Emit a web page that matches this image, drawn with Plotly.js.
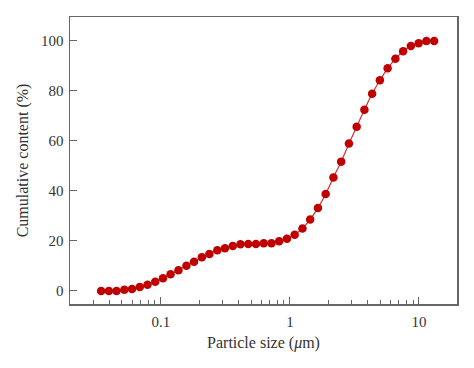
<!DOCTYPE html>
<html><head><meta charset="utf-8">
<script src="https://cdn.plot.ly/plotly-3.0.1.min.js"></script>
<style>html,body{margin:0;padding:0;background:#fff}#chart{width:474px;height:368px}</style>
</head><body><div id="chart"></div>
<script>
const particleSize = [0.0345,0.0396,0.0454,0.0522,0.0599,0.0687,0.0789,0.0906,0.104,0.119,0.137,0.158,0.181,0.208,0.238,0.274,0.314,0.361,0.414,0.476,0.546,0.627,0.720,0.826,0.949,1.089,1.251,1.436,1.649,1.893,2.174,2.496,2.866,3.290,3.778,4.337,4.980,5.718,6.565,7.538,8.655,9.936,11.41,13.10];
const cumulative = [0,0,0,0.5,0.8,1.6,2.5,3.7,5.1,6.7,8.3,10.1,11.7,13.5,14.8,16.3,17.1,18.0,18.7,18.8,18.8,19.1,19.1,19.9,20.9,22.5,25.0,28.6,33.2,38.8,45.4,51.7,58.9,65.6,72.4,78.8,84.2,89.0,92.8,95.8,97.9,99.0,99.9,99.9];
const xTickVals = [0.1,1,10];
const xTickText = ['0.1','1','10'];
const xMinorVals = [0.03,0.04,0.05,0.06,0.07,0.08,0.09,0.2,0.3,0.4,0.5,0.6,0.7,0.8,0.9,2,3,4,5,6,7,8,9];
const yTickVals = [0,20,40,60,80,100];

const font = {family:'"Liberation Serif","DejaVu Serif",serif', color:'#333', size:15};
Plotly.newPlot('chart', [{
  x: particleSize, y: cumulative, type:'scatter', mode:'lines+markers',
  line:{color:'#d03030', width:1.2, shape:'spline'},
  marker:{color:'#c00000', size:8.5}
}], {
  width:474, height:368,
  margin:{l:70, r:17, t:17, b:64},
  paper_bgcolor:'#fff', plot_bgcolor:'#fff',
  font: font,
  showlegend:false,
  xaxis:{type:'log', range:[Math.log10(0.0198), Math.log10(19.7)],
    tickmode:'array', tickvals:xTickVals, ticktext:xTickText,
    ticks:'inside', ticklen:7, tickwidth:1, tickcolor:'#666',
    minor:{tickmode:'array', tickvals:xMinorVals, ticks:'inside', ticklen:4, tickwidth:1, tickcolor:'#666', showgrid:false},
    showline:true, linecolor:'#666', linewidth:1.5, mirror:true,
    showgrid:false, zeroline:false,
    tickfont:{size:15}, ticklabelstandoff:3,
    title:{text:'Particle size (<i>μ</i>m)', font:{size:16}, standoff:8}},
  yaxis:{range:[-5.2,109.5], tickmode:'array', tickvals:yTickVals,
    ticks:'inside', ticklen:7, tickwidth:1, tickcolor:'#666',
    showline:true, linecolor:'#666', linewidth:1.5, mirror:true,
    showgrid:false, zeroline:false,
    tickfont:{size:15}, ticklabelstandoff:2,
    title:{text:'Cumulative content (%)', font:{size:16}, standoff:8}}
}, {displayModeBar:false, staticPlot:true});
</script></body></html>
